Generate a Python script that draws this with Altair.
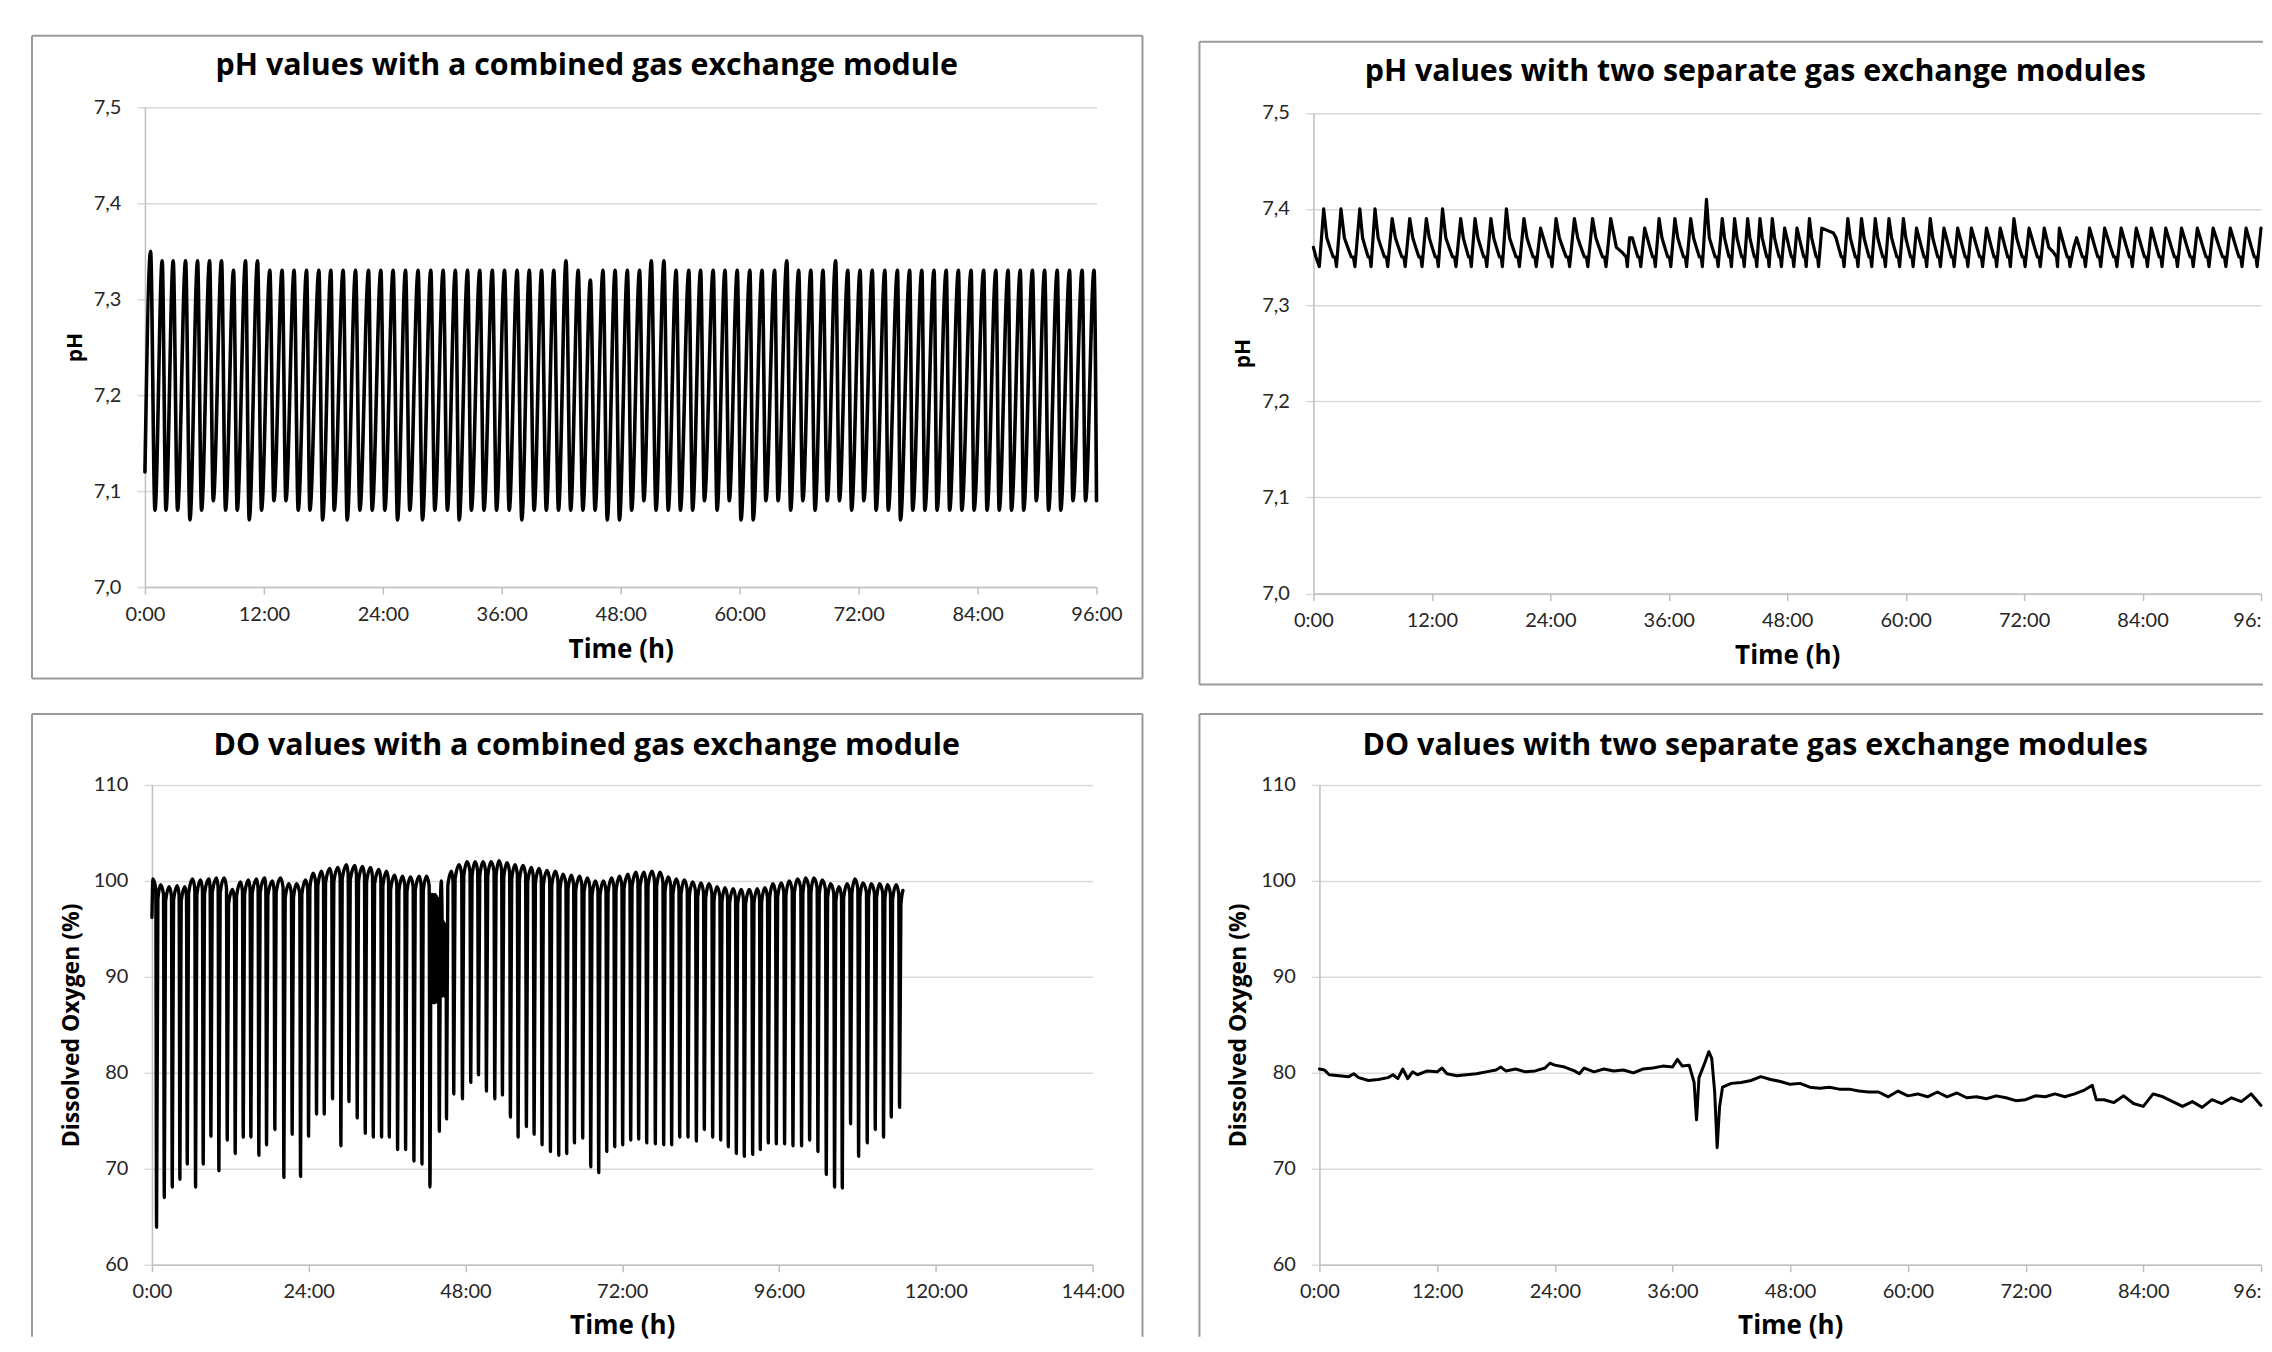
import altair as alt
import pandas as pd

FONT = "Lato"
TFONT = "Open Sans"
INK = "#000000"
LABEL = "#262626"
GRID = "#d9d9d9"
AXIS_C = "#bfbfbf"
BORDER_C = "#9a9a9a"

# ---------------- Panel 1: pH, combined gas exchange module ----------------
PH1_START = (0.0, 7.12)
PH1_END = (96.0, 7.09)
PH1_PEAK_T = [0.57, 1.74, 2.85, 4.10, 5.31, 6.52, 7.73, 8.94, 10.15, 11.36, 12.60, 13.84,
              15.05, 16.31, 17.55, 18.76, 20.00, 21.25, 22.56, 23.80, 25.04, 26.29, 27.56, 28.84,
              30.09, 31.32, 32.55, 33.78, 35.05, 36.28, 37.55, 38.78, 40.02, 41.25, 42.48, 43.71,
              44.94, 46.21, 47.44, 48.67, 49.90, 51.09, 52.36, 53.59, 54.87, 56.06, 57.33, 58.52,
              59.76, 61.03, 62.26, 63.53, 64.76, 65.95, 67.18, 68.41, 69.68, 70.91, 72.15, 73.38,
              74.65, 75.92, 77.15, 78.38, 79.61, 80.84, 82.07, 83.35, 84.62, 85.85, 87.08, 88.31,
              89.54, 90.77, 92.04, 93.28, 94.55, 95.75]
PH1_PEAK_V = [7.35, 7.34, 7.34, 7.34, 7.34, 7.34, 7.34, 7.33, 7.34, 7.34, 7.33, 7.33,
              7.33, 7.33, 7.33, 7.33, 7.33, 7.33, 7.33, 7.33, 7.33, 7.33, 7.33, 7.33,
              7.33, 7.33, 7.33, 7.33, 7.33, 7.33, 7.33, 7.33, 7.33, 7.33, 7.34, 7.33,
              7.32, 7.33, 7.33, 7.33, 7.33, 7.34, 7.34, 7.33, 7.33, 7.33, 7.33, 7.33,
              7.33, 7.33, 7.33, 7.33, 7.34, 7.33, 7.33, 7.33, 7.34, 7.33, 7.33, 7.33,
              7.33, 7.33, 7.33, 7.33, 7.33, 7.33, 7.33, 7.33, 7.33, 7.33, 7.33, 7.33,
              7.33, 7.33, 7.33, 7.33, 7.33, 7.33]
PH1_TROUGH_T = [1.01, 2.12, 3.29, 4.54, 5.71, 6.89, 8.13, 9.31, 10.52, 11.76, 13.01, 14.22,
                15.46, 16.64, 17.92, 19.09, 20.40, 21.68, 22.92, 24.20, 25.48, 26.72, 28.00, 29.24,
                30.51, 31.70, 32.93, 34.20, 35.47, 36.75, 38.02, 39.26, 40.49, 41.72, 42.95, 44.18,
                45.41, 46.64, 47.87, 49.10, 50.33, 51.56, 52.79, 54.02, 55.25, 56.44, 57.72, 58.95,
                60.13, 61.36, 62.64, 63.87, 65.14, 66.37, 67.60, 68.83, 70.06, 71.29, 72.52, 73.76,
                74.99, 76.22, 77.45, 78.68, 79.91, 81.18, 82.41, 83.64, 84.95, 86.18, 87.42, 88.65,
                89.92, 91.16, 92.39, 93.62, 94.89]
PH1_TROUGH_V = [7.08, 7.08, 7.08, 7.07, 7.08, 7.09, 7.08, 7.08, 7.07, 7.08, 7.09, 7.09,
                7.08, 7.08, 7.07, 7.08, 7.07, 7.08, 7.08, 7.08, 7.07, 7.08, 7.07, 7.08,
                7.08, 7.07, 7.08, 7.08, 7.08, 7.08, 7.07, 7.08, 7.08, 7.08, 7.08, 7.08,
                7.08, 7.07, 7.07, 7.08, 7.09, 7.08, 7.08, 7.08, 7.08, 7.09, 7.08, 7.09,
                7.07, 7.07, 7.09, 7.09, 7.08, 7.09, 7.08, 7.09, 7.09, 7.08, 7.09, 7.08,
                7.08, 7.07, 7.08, 7.08, 7.08, 7.08, 7.08, 7.08, 7.08, 7.08, 7.08, 7.08,
                7.09, 7.08, 7.08, 7.09, 7.09]

# ---------------- Panel 2: pH, two separate modules ----------------
PH2_LEAD = [(0.0, 7.36), (0.25, 7.35), (0.60, 7.34)]
PH2_PEAK_T = [1.04, 2.79, 4.70, 6.24, 7.98, 9.76, 11.44, 13.08, 14.92, 16.37, 17.98, 19.55,
              21.33, 23.01, 24.58, 26.44, 28.28, 30.12, 32.03, 33.56, 35.02, 36.62, 38.22, 39.82,
              41.42, 42.67, 43.99, 45.24, 46.49, 47.74, 48.99, 50.25, 51.50, 52.68, 54.14, 55.53,
              56.92, 58.31, 59.77, 61.10, 62.49, 63.88, 65.27, 66.66, 68.19, 69.58, 70.97, 72.50,
              74.04, 75.57, 77.03, 78.63, 80.16, 81.83, 83.36, 84.89, 86.35, 87.95, 89.55, 91.15,
              92.89, 94.49, 96.0]
PH2_PEAK_V = [7.40, 7.40, 7.40, 7.40, 7.39, 7.39, 7.39, 7.40, 7.39, 7.39, 7.39, 7.40,
              7.39, 7.38, 7.39, 7.39, 7.39, 7.39, 7.37, 7.38, 7.39, 7.39, 7.39, 7.41,
              7.39, 7.39, 7.39, 7.39, 7.39, 7.38, 7.38, 7.39, 7.38, 7.375, 7.39, 7.39,
              7.39, 7.39, 7.39, 7.38, 7.39, 7.38, 7.38, 7.38, 7.38, 7.38, 7.39, 7.38,
              7.38, 7.38, 7.36, 7.38, 7.38, 7.38, 7.38, 7.38, 7.38, 7.38, 7.38, 7.38,
              7.38, 7.38, 7.38]
# what follows each peak: s = usual step-wise fall, d = slow fall, r = slow rise to next peak
PH2_KIND = list("sssssssssssssssss" "dssssssssssssssr" "sssssssssssssssd" "sssssssssssss")
PH2_SHAPES = {
    "s": [(0.18, 7.37), (0.36, 7.36), (0.55, 7.35), (0.66, 7.35), (0.74, 7.34)],
    "d": [(0.30, 7.36), (0.60, 7.355), (0.82, 7.35), (0.88, 7.34)],
    "r": [],
}

# ---------------- Panel 3: DO, combined module ----------------
DO1_START = (0.0, 96.2)
DO1_APEX_T = [0.15, 1.33, 2.65, 3.88, 5.05, 6.22, 7.45, 8.72, 9.90, 11.07, 12.34, 13.57,
              14.79, 16.02, 17.24, 18.46, 19.69, 20.96, 22.14, 23.52, 24.69, 25.97, 27.24, 28.47,
              29.80, 31.08, 32.25, 33.48, 34.75, 35.93, 37.15, 38.38, 39.60, 40.93, 42.05, 44.30,
              45.86, 47.03, 48.25, 49.48, 50.70, 51.93, 53.15, 54.37, 55.60, 56.82, 58.10, 59.27,
              60.49, 61.77, 62.94, 64.22, 65.49, 66.67, 67.89, 69.12, 70.39, 71.61, 72.89, 74.11,
              75.34, 76.56, 77.79, 79.06, 80.29, 81.51, 82.79, 84.06, 85.28, 86.51, 87.73, 89.01,
              90.23, 91.46, 92.68, 93.85, 95.08, 96.35, 97.58, 98.85, 100.08, 101.35, 102.63, 103.90,
              105.18, 106.45, 107.63, 108.85, 110.13, 111.40, 112.62, 113.95, 114.97]
DO1_APEX_V = [100.2, 99.6, 99.4, 99.5, 99.4, 100.2, 100.1, 100.2, 100.3, 100.3, 99.1, 99.9,
              100.1, 100.2, 100.3, 100.0, 100.3, 99.7, 99.7, 100.1, 100.8, 101.0, 101.3, 101.4,
              101.7, 101.6, 101.5, 101.4, 101.2, 101.0, 100.6, 100.5, 100.4, 100.5, 100.5, 100.0,
              101.0, 101.7, 102.0, 102.0, 102.0, 102.0, 102.1, 101.9, 101.7, 101.6, 101.4, 101.3,
              101.1, 101.0, 100.7, 100.6, 100.5, 100.3, 100.0, 100.0, 100.3, 100.5, 100.7, 100.9,
              100.9, 101.0, 100.9, 100.4, 100.2, 100.1, 99.9, 99.8, 99.7, 99.4, 99.3, 99.2,
              99.1, 99.1, 99.2, 99.3, 99.7, 99.8, 100.0, 100.2, 100.3, 100.3, 100.1, 99.7,
              99.4, 99.7, 100.2, 99.8, 99.7, 99.7, 99.6, 99.6, 99.0]
DO1_TROUGH_T = [0.71, 1.89, 3.11, 4.28, 5.41, 6.68, 7.85, 9.03, 10.25, 11.53, 12.75, 13.98,
                15.15, 16.37, 17.55, 18.82, 20.20, 21.47, 22.75, 23.98, 25.20, 26.38, 27.65, 28.93,
                30.16, 31.43, 32.66, 33.89, 35.16, 36.34, 37.61, 38.84, 40.11, 41.34, 42.56, 44.00,
                45.10, 46.21, 47.54, 48.81, 49.99, 51.21, 52.49, 53.66, 54.88, 56.06, 57.33, 58.51,
                59.73, 61.01, 62.28, 63.50, 64.68, 65.95, 67.18, 68.40, 69.63, 70.85, 72.07, 73.30,
                74.52, 75.75, 77.07, 78.35, 79.57, 80.80, 82.07, 83.35, 84.57, 85.85, 87.07, 88.24,
                89.47, 90.69, 91.97, 93.14, 94.36, 95.59, 96.86, 98.14, 99.46, 100.69, 101.96, 103.24,
                104.51, 105.69, 106.96, 108.19, 109.51, 110.74, 112.01, 113.19, 114.46]
DO1_TROUGH_V = [63.9, 67.0, 68.1, 68.9, 70.5, 68.1, 70.5, 73.4, 69.8, 73.0, 71.6, 73.3,
                73.3, 71.4, 72.5, 74.1, 69.1, 73.6, 69.2, 73.4, 75.7, 75.7, 77.3, 72.4,
                77.0, 75.3, 73.7, 73.3, 73.3, 73.3, 72.0, 72.0, 70.8, 70.5, 68.1, 73.9,
                75.2, 77.8, 77.3, 79.0, 79.8, 78.1, 77.3, 77.7, 75.4, 73.3, 74.4, 73.6,
                72.5, 71.8, 71.4, 71.6, 72.7, 73.2, 70.2, 69.6, 71.8, 72.3, 72.5, 73.0,
                73.1, 72.7, 72.6, 72.5, 72.5, 73.3, 73.3, 72.9, 74.1, 73.3, 73.0, 72.3,
                71.6, 71.3, 71.5, 72.0, 72.7, 72.6, 72.6, 72.4, 72.4, 73.0, 71.8, 69.4,
                68.1, 68.0, 74.7, 71.3, 72.7, 74.1, 73.3, 75.4, 76.4]
DO1_NOISE_T = [42.75, 42.85, 42.95, 43.05, 43.15, 43.25, 43.35, 43.45, 43.55, 43.65, 43.75, 43.85,
               44.42, 44.50, 44.58, 44.66, 44.74, 44.82, 44.90, 44.98, 45.04]
DO1_NOISE_V = [98.6, 87.3, 98.6, 87.5, 98.5, 87.3, 98.6, 87.5, 98.4, 87.4, 98.2, 97.8,
               95.8, 88.0, 95.8, 88.2, 95.6, 88.0, 95.5, 88.5, 95.0]
# arch shoulders: the fall/rise strokes are almost vertical
DO1_FALL = (0.12, 1.0)   # (hours before trough, % below preceding apex)
DO1_RISE = (0.20, 1.5)   # (hours after trough, % below following apex)

# ---------------- Panel 4: DO, two separate modules ----------------
DO2_T = [0, 0.5, 1, 2, 3, 3.5, 4, 5, 6, 7, 7.5, 8, 8.5, 9, 9.5, 10, 11, 12, 12.5, 13,
         14, 15, 16, 17, 18, 18.5, 19, 20, 21, 22, 23, 23.5, 24, 25, 26, 26.5, 27, 28, 29, 30,
         31, 32, 33, 34, 35, 36, 36.5, 37, 37.7, 38.2, 38.45, 38.7, 39.2, 39.7, 40.0, 40.3, 40.55,
         40.8, 41.1, 42, 43, 44, 45, 46, 47, 48, 49, 50, 51, 52, 53, 54, 55, 56, 57, 58, 59, 60,
         61, 62, 63, 64, 65, 66, 67, 68, 69, 70, 71, 72, 73, 74, 75, 76, 77, 78, 78.8, 79.2, 80,
         81, 82, 83, 84, 85, 86, 87, 88, 89, 90, 91, 92, 93, 94, 95, 96]
DO2_V = [80.4, 80.3, 79.8, 79.7, 79.6, 79.9, 79.5, 79.2, 79.3, 79.5, 79.8, 79.4, 80.4, 79.4, 80.1, 79.8, 80.2, 80.1, 80.5, 79.9,
         79.7, 79.8, 79.9, 80.1, 80.3, 80.6, 80.2, 80.4, 80.1, 80.2, 80.5, 81.0, 80.8, 80.6, 80.2, 79.9, 80.5, 80.1, 80.4, 80.2,
         80.3, 80.0, 80.4, 80.5, 80.7, 80.6, 81.4, 80.7, 80.8, 79.0, 75.1, 79.5, 80.8, 82.2, 81.5, 78.0, 72.2,
         76.5, 78.5, 78.9, 79.0, 79.2, 79.6, 79.3, 79.1, 78.8, 78.9, 78.5, 78.4, 78.5, 78.3, 78.3, 78.1, 78.0, 78.0, 77.5, 78.1, 77.6,
         77.8, 77.5, 78.0, 77.5, 77.9, 77.4, 77.5, 77.3, 77.6, 77.4, 77.1, 77.2, 77.6, 77.5, 77.8, 77.5, 77.8, 78.2, 78.7, 77.2, 77.2,
         76.9, 77.6, 76.8, 76.5, 77.8, 77.5, 77.0, 76.5, 77.0, 76.4, 77.2, 76.8, 77.4, 77.0, 77.8, 76.6]


def build_ph1():
    pts = [PH1_START] + list(zip(PH1_PEAK_T, PH1_PEAK_V)) + list(zip(PH1_TROUGH_T, PH1_TROUGH_V)) + [PH1_END]
    pts.sort()
    return pd.DataFrame(pts, columns=["t", "v"])


def build_ph2():
    rows = list(PH2_LEAD)
    n = len(PH2_PEAK_T)
    for i in range(n):
        tp, vp = PH2_PEAK_T[i], PH2_PEAK_V[i]
        rows.append((tp, vp))
        if i + 1 < n:
            span = PH2_PEAK_T[i + 1] - tp
            kind = PH2_KIND[i] if i < len(PH2_KIND) else "s"
            for f, v in PH2_SHAPES[kind]:
                rows.append((tp + f * span, v))
    return pd.DataFrame(rows, columns=["t", "v"])


def build_do1():
    pts = [(t, v, "a") for t, v in zip(DO1_APEX_T, DO1_APEX_V)]
    pts += [(t, v, "t") for t, v in zip(DO1_TROUGH_T, DO1_TROUGH_V)]
    pts += [(t, v, "n") for t, v in zip(DO1_NOISE_T, DO1_NOISE_V)]
    pts.append((DO1_START[0], DO1_START[1], "n"))
    pts.sort()
    rows = []
    for i, (t, v, k) in enumerate(pts):
        if k == "t":
            prev = pts[i - 1] if i > 0 else None
            nxt = pts[i + 1] if i + 1 < len(pts) else None
            if prev is not None and prev[2] == "a":
                rows.append((t - DO1_FALL[0], prev[1] - DO1_FALL[1]))
            rows.append((t, v))
            if nxt is not None and nxt[2] == "a":
                rows.append((t + DO1_RISE[0], nxt[1] - DO1_RISE[1]))
        else:
            rows.append((t, v))
    return pd.DataFrame(rows, columns=["t", "v"])


def build_do2():
    return pd.DataFrame({"t": DO2_T, "v": DO2_V})


ONE = pd.DataFrame({"k": [0]})


def x_axis(values, cut_last, tpad):
    kw = {}
    expr = "datum.value + ':00'"
    if cut_last:
        expr = "datum.value == 96 ? '96:' : datum.value + ':00'"
        kw["labelAlign"] = {"condition": {"test": "datum.value == 96", "value": "right"}, "value": "center"}
    return alt.Axis(values=values, labelExpr=expr, title="Time (h)", grid=False,
                    domainColor=AXIS_C, domainWidth=1.5, tickColor=AXIS_C, tickWidth=1.5, tickSize=7,
                    labelFont=FONT, labelFontSize=20, labelColor=LABEL, labelPadding=10,
                    labelOverlap=False, labelFlush=False,
                    titleFont=TFONT, titleFontSize=26, titleFontWeight="bold", titleColor=INK,
                    titlePadding=tpad, **kw)


def y_axis(values, title, expr, tsize, tpad, offset):
    return alt.Axis(values=values, labelExpr=expr, title=title, grid=True,
                    gridColor=GRID, gridWidth=1.5, domainColor=AXIS_C, domainWidth=1.5,
                    tickColor=GRID, tickWidth=1.5, tickSize=8, offset=offset,
                    labelFont=FONT, labelFontSize=20, labelColor=LABEL, labelPadding=16,
                    labelOverlap=False,
                    titleFont=TFONT, titleFontSize=tsize, titleFontWeight="bold", titleColor=INK,
                    titlePadding=tpad)


def panel(df, title, title_xy, xmax, xvals, cut, ydom, yvals, yexpr, ytitle, ytsize, ytpad,
          w, h, interp, borders, stroke, xtpad=12, xr=None, yr=None, yoff=0, ghosts=()):
    xs = alt.Scale(domain=[0, xmax], nice=False, zero=False)
    ys = alt.Scale(domain=ydom, nice=False, zero=False)
    if xr is not None:
        xs = alt.Scale(domain=[0, xmax], nice=False, zero=False, range=xr)
    if yr is not None:
        ys = alt.Scale(domain=ydom, nice=False, zero=False, range=yr)
    line = alt.Chart(df).mark_line(color=INK, strokeWidth=stroke, interpolate=interp,
                                   strokeJoin="round", strokeCap="round").encode(
        x=alt.X("t:Q", scale=xs, axis=x_axis(xvals, cut, xtpad)),
        y=alt.Y("v:Q", scale=ys, axis=y_axis(yvals, ytitle, yexpr, ytsize, ytpad, yoff)),
    )
    layers = []
    # chart-area frame (Excel chart border)
    for (x1, x2, y1, y2) in borders:
        layers.append(alt.Chart(ONE).mark_rule(color=BORDER_C, strokeWidth=2).encode(
            x=alt.value(x1), x2=alt.value(x2), y=alt.value(y1), y2=alt.value(y2)))
    for gy in ghosts:
        # invisible white spacer that evens out the layout boxes of the two top panels
        layers.append(alt.Chart(ONE).mark_rule(color="white", strokeWidth=2).encode(
            x=alt.value(0), x2=alt.value(10), y=alt.value(gy), y2=alt.value(gy)))
    layers.append(line)
    # chart title, centred over the chart area like in the spreadsheet export
    layers.append(alt.Chart(pd.DataFrame({"title": [title]})).mark_text(
        font=TFONT, fontSize=30.4, fontWeight="bold", color=INK, align="center",
        baseline="middle").encode(text="title:N", x=alt.value(title_xy[0]),
                                  y=alt.value(title_xy[1])))
    return alt.layer(*layers).properties(width=w, height=h)


PH_EXPR = "replace(format(datum.value, '.1f'), '.', ',')"
DO_EXPR = "format(datum.value, 'd')"
PH_TICKS = [7.0, 7.1, 7.2, 7.3, 7.4, 7.5]
DO_TICKS = [60, 70, 80, 90, 100, 110]
H96 = [0, 12, 24, 36, 48, 60, 72, 84, 96]
H144 = [0, 24, 48, 72, 96, 120, 144]

W1, H1 = 952, 480
W2, H2, D2 = 948, 481, 5.5        # panel 2 plot sits 5.5 px lower than panel 1
W3, H3, D3 = 941, 480, 7          # panel 3 plot sits 7 px further right than panel 1
W4, H4 = 942, 480

p1 = panel(build_ph1(), "pH values with a combined gas exchange module", (442, -41.5),
           96, H96, False, [7.0, 7.5], PH_TICKS, PH_EXPR, "pH", 21, 8, W1, H1, "monotone",
           [(-113, W1 + 46, -71.5, -71.5), (-113, W1 + 46, H1 + 91.5, H1 + 91.5),
            (-113, -113, -71.5, H1 + 91.5), (W1 + 46, W1 + 46, -71.5, H1 + 91.5)],
           3.6, ghosts=(H1 + 97.5,))
p2 = panel(build_ph2(), "pH values with two separate gas exchange modules", (442, -35.5),
           96, H96, True, [7.0, 7.5], PH_TICKS, PH_EXPR, "pH", 21, 8, W2, H2 + D2, "linear",
           [(-114, W2 + 2, D2 - 71, D2 - 71), (-114, W2 + 2, D2 + H2 + 91, D2 + H2 + 91),
            (-114, -114, D2 - 71, D2 + H2 + 91)],
           3.2, yr=[H2 + D2, D2])
p3 = panel(build_do1(), "DO values with a combined gas exchange module", (442, -39),
           144, H144, False, [60, 110], DO_TICKS, DO_EXPR, "Dissolved Oxygen (%)", 23, 10,
           W3 + D3, H3, "monotone",
           [(D3 - 120, D3 + W3 + 50, -71, -71), (D3 - 120, D3 - 120, -71, H3 + 72),
            (D3 + W3 + 50, D3 + W3 + 50, -71, H3 + 72)],
           3.4, xtpad=11, xr=[D3, D3 + W3], yoff=-D3)
p4 = panel(build_do2(), "DO values with two separate gas exchange modules", (436, -39),
           96, H96, True, [60, 110], DO_TICKS, DO_EXPR, "Dissolved Oxygen (%)", 23, 10,
           W4, H4, "linear",
           [(-120, W4 + 2, -71, -71), (-120, -120, -71, H4 + 72)],
           3.0, xtpad=11)

chart = alt.concat(p1, p2, p3, p4, columns=2, align="none",
                   spacing={"row": 27, "column": 55}).properties(
    padding={"left": 23, "top": 26, "right": 0, "bottom": 2}, background="white"
).configure_view(stroke=None)

chart.save("out.html", embed_options={"renderer": "svg", "actions": False})
